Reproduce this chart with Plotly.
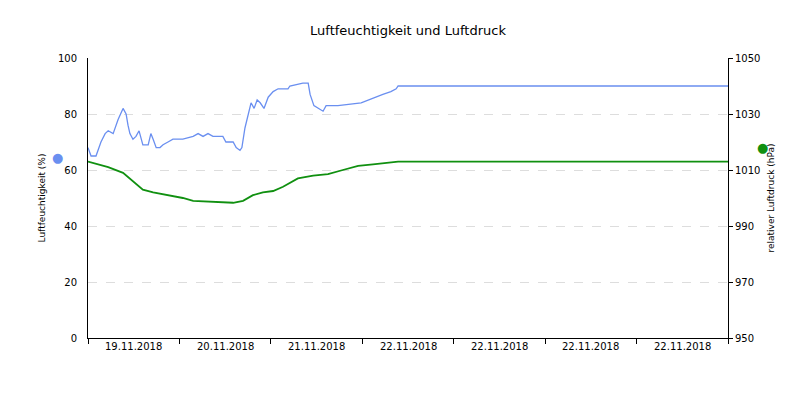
import plotly.graph_objects as go

hum_h = [0,0.8,2.1,3.4,4.5,5.3,6.6,7.9,9.2,10.0,10.5,11.0,11.8,12.6,13.4,13.9,14.4,15.8,16.5,17.1,17.9,18.9,19.7,21.0,22.3,24.9,27.6,28.9,30.2,31.5,32.8,35.4,36.2,38.1,38.9,39.9,40.4,41.2,42.0,42.8,43.6,44.4,45.2,46.2,47.3,48.6,49.9,52.5,53.0,56.4,57.8,58.3,59.3,60.4,61.7,62.5,65.6,71.7,73.5,75.3,77.4,79.5,80.9,81.4,168]
hum_v = [68,65,65,70,73,74,73,78,82,80,76,73,71,72,74,71,69,69,73,71,68,68,69,70,71,71,72,73,72,73,72,72,70,70,68,67,68,75,80,84,82,85,84,82,86,88,89,89,90,91,91,87,83,82,81,83,83,84,85,86,87,88,89,90,90]
pres_h = [0,5.3,9.2,11.8,14.4,17.1,21.0,24.9,27.6,31.5,35.4,38.1,40.7,43.3,45.9,48.6,51.2,55.1,59.1,63.0,66.9,70.9,74.8,78.8,81.4,168]
pres_v = [1013,1011,1009,1006,1003,1002,1001,1000,999,998.8,998.5,998.3,999,1001,1002,1002.5,1004,1007,1008,1008.5,1010,1011.5,1012,1012.5,1013,1013]
tick_labels = ["19.11.2018","20.11.2018","21.11.2018","22.11.2018","22.11.2018","22.11.2018","22.11.2018"]
pres_ticks = [950,970,990,1010,1030,1050]

fig = go.Figure()
fig.add_trace(go.Scatter(x=hum_h, y=hum_v, mode="lines", line=dict(color="#6a8ff0", width=1.3), yaxis="y"))
fig.add_trace(go.Scatter(x=pres_h, y=pres_v, mode="lines", line=dict(color="#109010", width=1.8), yaxis="y2"))

font = dict(family="DejaVu Sans", size=10, color="#000")
fig.update_layout(
    width=800, height=400, showlegend=False, plot_bgcolor="white", paper_bgcolor="white",
    margin=dict(l=80, r=80, t=50, b=70, autoexpand=False), font=font,
    title=dict(text="Luftfeuchtigkeit und Luftdruck", x=0.5, y=0.955, xanchor="center", font=dict(size=13, family="DejaVu Sans")),
    xaxis=dict(range=[0,168], tickvals=[24*i for i in range(8)], showticklabels=False, ticks="outside", ticklen=5,
               tickcolor="#000", showline=True, linecolor="#000", showgrid=False, zeroline=False, automargin=False),
    yaxis=dict(range=[0,100], dtick=20, showline=True, linecolor="#000", ticks="", gridcolor="#ddd", griddash="dash",
               zeroline=False, title=dict(text="Luftfeuchtigkeit (%)", font=dict(size=9), standoff=10), ticklabelstandoff=8, automargin=False),
    yaxis2=dict(range=[950,1050], tickvals=pres_ticks, overlaying="y", side="right", showline=True, linecolor="#000", ticks="outside",
                ticklen=4, tickcolor="#000", showgrid=False, zeroline=False, automargin=False,
                title=dict(text="relativer Luftdruck (hPa)", font=dict(size=9), standoff=8)),
)
for i, t in enumerate(tick_labels):
    fig.add_annotation(x=24*i+12, y=0, xref="x", yref="paper", yshift=-16, text=t, showarrow=False, font=font)
fig.add_annotation(x=-0.059, y=0.68, xref="paper", yref="paper", text="●", showarrow=False, font=dict(size=13, color="#6a8ff0"))
fig.add_annotation(x=1.066, y=0.715, xref="paper", yref="paper", text="●", showarrow=False, font=dict(size=13, color="#109010"))
fig.write_html("out.html")
